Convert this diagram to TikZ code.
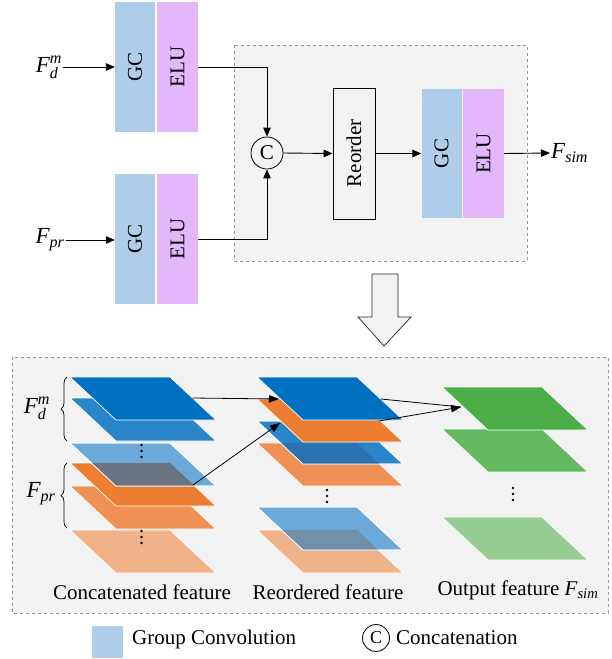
\documentclass[tikz,border=0pt]{standalone}
\usepackage{fontspec}
\usepackage{amsmath}
\setmainfont{Liberation Serif}
\usetikzlibrary{arrows.meta,decorations.pathreplacing}

\definecolor{panelbg}{RGB}{242,242,242}
\definecolor{dashgray}{RGB}{150,150,150}
\definecolor{gcblue}{RGB}{174,205,234}
\definecolor{elupink}{RGB}{228,182,250}
\definecolor{dkblue}{RGB}{0,112,192}
\definecolor{mdblue}{RGB}{42,132,202}
\definecolor{ltblue}{RGB}{107,170,216}
\definecolor{orA}{RGB}{237,125,49}
\definecolor{orB}{RGB}{239,144,84}
\definecolor{orC}{RGB}{240,178,137}
\definecolor{ovgrey}{RGB}{106,116,128}
\definecolor{ovblue}{RGB}{42,115,176}
\definecolor{ovpeach}{RGB}{112,145,170}
\definecolor{grA}{RGB}{76,173,72}
\definecolor{grB}{RGB}{101,185,97}
\definecolor{grC}{RGB}{151,205,146}

% one feature map drawn as a flat parallelogram (top-left corner given)
\newcommand\featsheet[3]{\fill[#3,draw=white,line width=0.7pt] (#1,#2) -- ++(100,0) -- ++(46,43) -- ++(-100,0) -- cycle;}
\newcommand\clipsheet[2]{\clip (#1,#2) -- ++(100,0) -- ++(46,43) -- ++(-100,0) -- cycle;}
\newcommand\tintsheet[3]{\fill[#3] (#1,#2) -- ++(100,0) -- ++(46,43) -- ++(-100,0) -- cycle;}
\newcommand\rimsheet[2]{\draw[white,line width=0.7pt] (#1,#2) -- ++(100,0) -- ++(46,43) -- ++(-100,0) -- cycle;}
% vertical ellipsis
\newcommand\stackdots[2]{\fill (#1,#2) circle (1.3) (#1,#2+6) circle (1.3) (#1,#2+12) circle (1.3);}

\begin{document}
\begin{tikzpicture}[x=1pt,y=-1pt,
  every node/.style={font=\fontsize{21}{25}\selectfont, inner sep=1pt},
  gcbox/.style={fill=gcblue, minimum width=40pt, minimum height=130pt, inner sep=0pt},
  elubox/.style={fill=elupink, minimum width=41pt, minimum height=130pt, inner sep=0pt},
  reorderbox/.style={draw=black, line width=0.8pt, fill=panelbg, minimum width=42pt, minimum height=131pt, inner sep=0pt},
  catcirc/.style={circle, draw=black, line width=0.8pt, minimum size=32pt, inner sep=0pt},
  panel/.style={fill=panelbg, draw=dashgray, dashed, line width=0.7pt},
  arr/.style={-{Triangle[length=9pt,width=7.5pt]}, line width=0.9pt},
  thinarr/.style={-{Triangle[length=10pt,width=7.5pt]}, line width=0.8pt},
  biglabel/.style={font=\fontsize{21}{25}\selectfont},
  flabel/.style={font=\fontsize{23}{27}\selectfont}]

\path[use as bounding box] (0,0) rectangle (612,659);

% ---------- block diagram ----------
\draw[panel] (234,45) rectangle (527,261);

\node[gcbox]  (gc1)  at (135,67)    {\rotatebox{90}{GC}};
\node[elubox] (elu1) at (177.5,67)  {\rotatebox{90}{ELU}};
\node[gcbox]  (gc2)  at (135,239)   {\rotatebox{90}{GC}};
\node[elubox] (elu2) at (177.5,239) {\rotatebox{90}{ELU}};

\node[flabel] (fin1) at (49,67)  {$\textit{F}^{\textit{m}}_{\textit{d}}$};
\node[flabel] (fin2) at (50,240) {$\textit{F}_{\textit{pr}}$};

\node[catcirc] (cat) at (267,153) {C};
\node[reorderbox] (reord) at (354,153.5) {\rotatebox{90}{Reorder}};
\node[gcbox, minimum height=129pt]  (gc3)  at (441.5,153.5) {\rotatebox{90}{GC}};
\node[elubox, minimum height=129pt] (elu3) at (483.5,153.5) {\rotatebox{90}{ELU}};
\node[flabel, anchor=west] (fout) at (550,153) {$\textit{F}_{\textit{sim}}$};

\draw[arr] (fin1.east) -- (gc1.west);
\draw[arr] (fin2.east) -- (gc2.west |- fin2.east);
\draw[arr] (elu1.east) -| (cat.north);
\draw[arr] (elu2.east) -| (cat.south);
\draw[arr] (cat.east) -- (reord.west);
\draw[arr] (reord.east) -- (gc3.west);
\draw[arr] (elu3.east) -- (fout.west);

% hollow arrow between the two parts
\draw[fill=panelbg, draw=black!85, line width=0.7pt]
  (372,274) -- (398,274) -- (398,317) -- (411,317) -- (384,346) -- (358,317) -- (372,317) -- cycle;

% ---------- feature illustration ----------
\draw[panel] (12,357) rectangle (608,613);

% concatenated feature stack
\featsheet{70}{530}{orC}
\featsheet{70}{486}{orB}
\featsheet{70}{463}{orA}
\featsheet{70}{443}{ltblue}
\begin{scope}
  \clipsheet{70}{443}
  \tintsheet{70}{463}{ovgrey}
\end{scope}
\rimsheet{70}{443}
\featsheet{70}{398}{mdblue}
\featsheet{70}{377}{dkblue}
\stackdots{141.5}{445}
\stackdots{141.5}{531}

\draw[decorate, decoration={brace, amplitude=6pt}, line width=0.7pt] (67,441) -- (67,377);
\draw[decorate, decoration={brace, amplitude=6pt}, line width=0.7pt] (67,528) -- (67,463);
\node[flabel] (fdmb) at (37,408) {$\textit{F}^{\textit{m}}_{\textit{d}}$};
\node[flabel] (fprb) at (41,494) {$\textit{F}_{\textit{pr}}$};

% reordered feature stack
\featsheet{257}{530}{orC}
\featsheet{257}{507}{ltblue}
\begin{scope}
  \clipsheet{257}{507}
  \tintsheet{257}{530}{ovpeach}
\end{scope}
\rimsheet{257}{507}
\featsheet{257}{443}{orB}
\featsheet{257}{421}{mdblue}
\begin{scope}
  \clipsheet{257}{421}
  \tintsheet{257}{443}{ovblue}
\end{scope}
\rimsheet{257}{421}
\featsheet{257}{399}{orA}
\featsheet{257}{377}{dkblue}
\stackdots{327}{490}

% output feature stack
\featsheet{442}{517}{grC}
\featsheet{442}{429}{grB}
\featsheet{442}{387}{grA}
\stackdots{513}{488}

% connector end points on the sheet edges
\coordinate (catTop)  at (192.5,398);
\coordinate (catOr)   at (193,485);
\coordinate (reTop)   at (279,399);
\coordinate (reOr)    at (280,423);
\coordinate (reTopR)  at (381,399);
\coordinate (reOrR)   at (379,421);
\coordinate (outTop)  at (461,407);

\draw[thinarr] (catTop) -- (reTop);
\draw[thinarr] (catOr) -- (reOr);
\draw[line width=0.8pt] (reTopR) -- (outTop);
\draw[thinarr] (reOrR) -- (outTop);

\node[biglabel] (lbcat) at (142,592) {Concatenated feature};
\node[biglabel] (lbre)  at (328,592) {Reordered feature};
\node[biglabel] (lbout) at (518,590) {Output feature $\textit{F}_{\textit{sim}}$};

% ---------- legend ----------
\fill[gcblue] (92,626) rectangle (123,658);
\node[biglabel, anchor=west] (leggc) at (131,639) {Group Convolution};
\node[catcirc, minimum size=27pt, font=\fontsize{18}{20}\selectfont] (legc) at (376,638) {C};
\node[biglabel, anchor=west] (legcat) at (395,638) {Concatenation};

\end{tikzpicture}
\end{document}
